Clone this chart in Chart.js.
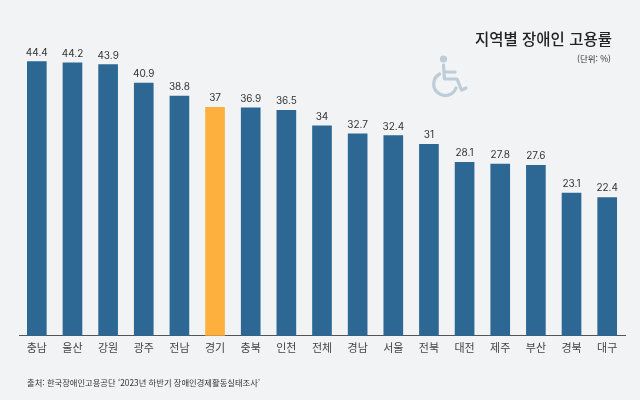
<!DOCTYPE html>
<html lang="ko">
<head>
<meta charset="utf-8">
<script src="https://cdn.jsdelivr.net/npm/chart.js@4"></script>
<style>
    html, body { margin: 0; padding: 0; background: #f2f3f5; }
    body { position: relative; width: 640px; height: 400px; overflow: hidden; font-family: "Noto Sans CJK KR", sans-serif; }
    canvas { position: absolute; left: 0; top: 0; }
    .txt { position: absolute; white-space: nowrap; line-height: 1; }
    #title { right: 28px; top: 31px; font-size: 15.5px; font-weight: 500; color: #222; }
    #unit { right: 29px; top: 54px; font-size: 8.5px; color: #333; }
    #source { left: 27px; top: 378px; font-size: 8.3px; color: #333; }
    #icon { position: absolute; left: 432px; top: 55px; }
</style>
</head>
<body>
<canvas id="myChart" width="640" height="400"></canvas>
<div class="txt" id="title">지역별 장애인 고용률</div>
<div class="txt" id="unit">(단위: %)</div>
<div class="txt" id="source">출처: 한국장애인고용공단 ‘2023년 하반기 장애인경제활동실태조사’</div>
<svg id="icon" width="38" height="44" viewBox="0 0 38 44" fill="none" stroke="#bccdd9" stroke-width="3.2" stroke-linecap="round" stroke-linejoin="round">
    <circle cx="11.5" cy="4" r="3.6" fill="#bccdd9" stroke="none"/>
    <path d="M11.5 10 L12.5 24 L25 24 L29.5 35 L34 33"/>
    <path d="M12.5 17 L23 17"/>
    <path d="M7.5 19 A11.5 11.5 0 1 0 24 33"/>
</svg>
<script>
const regions = ['충남', '울산', '강원', '광주', '전남', '경기', '충북', '인천', '전체', '경남', '서울', '전북', '대전', '제주', '부산', '경북', '대구'];
const rates = [44.4, 44.2, 43.9, 40.9, 38.8, 37, 36.9, 36.5, 34, 32.7, 32.4, 31, 28.1, 27.8, 27.6, 23.1, 22.4];
const highlight = '경기';

// values above the bars
const valueLabels = {
    id: 'valueLabels',
    afterDatasetsDraw(chart) {
        const ctx = chart.ctx;
        const meta = chart.getDatasetMeta(0);
        ctx.save();
        ctx.font = '10px Inter, sans-serif';
        ctx.fillStyle = '#333';
        ctx.textAlign = 'center';
        ctx.textBaseline = 'alphabetic';
        meta.data.forEach(function(bar, i) {
            ctx.fillText(String(rates[i]), bar.x, bar.y - 6);
        });
        ctx.restore();
    }
};

new Chart(document.getElementById('myChart'), {
    type: 'bar',
    data: {
        labels: regions,
        datasets: [{
            data: rates,
            backgroundColor: regions.map(r => r === highlight ? '#fdb03e' : '#2d6895'),
            barThickness: 19
        }]
    },
    options: {
        responsive: false,
        animation: false,
        layout: { padding: { left: 19, right: 15, top: 27, bottom: 41 } },
        plugins: {
            legend: false,
            title: { display: false },
            tooltip: { enabled: false }
        },
        scales: {
            x: {
                grid: { display: false, drawTicks: false },
                border: { color: '#555', width: 1 },
                ticks: {
                    color: '#444',
                    font: { size: 11, family: '"Noto Sans CJK KR", sans-serif' },
                    padding: 5,
                    maxRotation: 0,
                    autoSkip: false
                }
            },
            y: {
                display: false,
                min: 0,
                max: 50
            }
        }
    },
    plugins: [valueLabels]
});
</script>
</body>
</html>
